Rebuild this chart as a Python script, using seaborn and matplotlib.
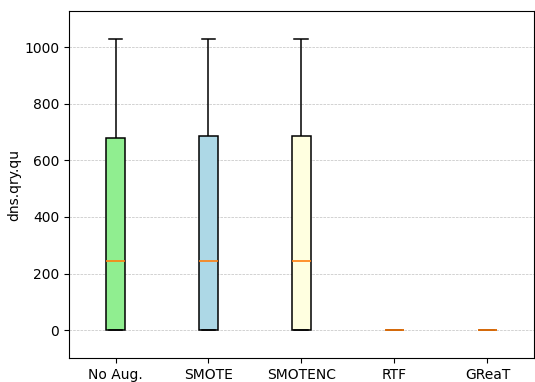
import matplotlib
matplotlib.use("Agg")
import matplotlib.pyplot as plt
import seaborn as sns
import pandas as pd

methods = ["No Aug.", "SMOTE", "SMOTENC", "RTF", "GReaT"]
box_colors = ["lightgreen", "lightblue", "lightyellow", "lightcoral", "plum"]

# Samples per method (min, Q1, median, Q3, max)
no_aug = [0, 0, 245, 680, 1030]
smote = [0, 0, 245, 687, 1030]
smotenc = [0, 0, 245, 687, 1030]
rtf = [0, 0, 0, 0, 0]
great = [0, 0, 0, 0, 0]

samples = [no_aug, smote, smotenc, rtf, great]
df = pd.DataFrame({
    "method": [m for m, s in zip(methods, samples) for _ in s],
    "value": [v for s in samples for v in s],
})

fig, ax = plt.subplots(figsize=(5.35, 3.82), dpi=100)
sns.boxplot(
    data=df, x="method", y="value", hue="method", order=methods,
    hue_order=methods, palette=box_colors, saturation=1, legend=False,
    width=0.2, linecolor="black", linewidth=1.1, showfliers=False, whis=1.5,
    medianprops={"color": "#ff7f0e", "linewidth": 1.2},
    capwidths=0.15, ax=ax,
)
ax.set_ylim(-99, 1127)
ax.set_xlim(-0.5, 4.5)
ax.set_xlabel("")
ax.set_ylabel("dns.qry.qu", labelpad=2)
ax.yaxis.grid(True, linestyle="--", linewidth=0.5, color="#b0b0b0", alpha=0.8)
ax.set_axisbelow(True)
for sp in ax.spines.values():
    sp.set_visible(True)
    sp.set_color("black")
    sp.set_linewidth(0.8)

fig.subplots_adjust(left=0.129, right=0.998, top=0.971, bottom=0.062)
fig.savefig("out.png", dpi=100)
